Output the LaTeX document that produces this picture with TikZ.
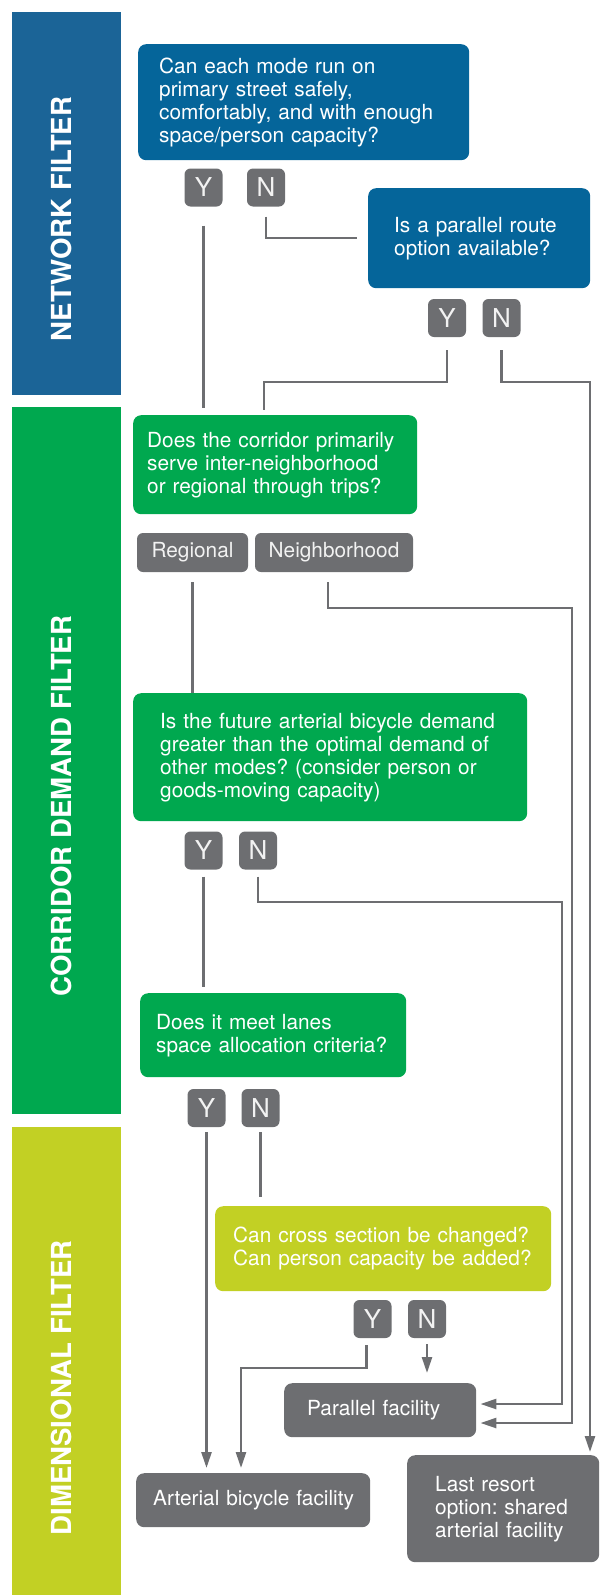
\documentclass[tikz,border=0pt]{standalone}
\usepackage{fontspec}
\setmainfont{TeX Gyre Heros}
\usetikzlibrary{arrows.meta}

\definecolor{bandblue}{HTML}{1B6497}
\definecolor{qblue}{HTML}{05659A}
\definecolor{qgreen}{HTML}{00A84F}
\definecolor{qlime}{HTML}{C2D024}
\definecolor{boxgray}{HTML}{6D6E71}
\definecolor{badgetext}{HTML}{F2F2F2}
\frenchspacing

\begin{document}
\begin{tikzpicture}[x=1pt,y=-1pt,
  qbox/.style={anchor=north west, rounded corners=8pt, text=white, align=left,
    inner ysep=0pt, font=\fontsize{20.8}{23}\selectfont},
  badge/.style={fill=boxgray, rounded corners=6pt, text=badgetext, minimum width=38pt,
    minimum height=38pt, inner sep=0pt, font=\fontsize{26}{26}\selectfont},
  tag/.style={fill=boxgray, rounded corners=6pt, text=badgetext, minimum height=39pt,
    inner sep=0pt, font=\fontsize{20.8}{23}\selectfont},
  bandlabel/.style={rotate=90, text=white, font=\fontsize{27.6}{28}\selectfont\bfseries},
  conn/.style={draw=boxgray, line width=2.5pt},
  connarrow/.style={conn, -{Triangle[length=16pt,width=10pt]}}
]
\useasboundingbox (0,0) rectangle (605,1595);

% filter bands
\fill[bandblue] (12,12) rectangle (121,395);
\fill[qgreen] (12,407) rectangle (121,1114);
\fill[qlime] (12,1127) rectangle (121,1595);
\node[bandlabel] (netlabel) at (61,219) {NETWORK FILTER};
\node[bandlabel] (corlabel) at (61,806) {CORRIDOR DEMAND FILTER};
\node[bandlabel] (dimlabel) at (61,1388) {DIMENSIONAL FILTER};

% network filter
\node[qbox, fill=qblue, inner xsep=21pt, text width=289pt, minimum height=116pt] (q1) at (138,44)
  {Can each mode run on\\primary street safely,\\comfortably, and with enough\\space/person capacity?};
\node[badge] (y1) at (203.5,187.5) {Y};
\node[badge] (n1) at (266,187.5) {N};
\node[qbox, fill=qblue, inner xsep=26pt, text width=170pt, minimum height=100pt] (q2) at (368,188)
  {Is a parallel route\\option available?};
\node[badge] (y2) at (447,318) {Y};
\node[badge] (n2) at (501.5,318) {N};

% corridor demand filter
\node[qbox, fill=qgreen, inner xsep=14pt, text width=256pt, minimum height=99pt] (q3) at (133,415)
  {Does the corridor primarily\\serve inter-neighborhood\\or regional through trips?};
\node[tag, minimum width=111pt] (reg) at (192.5,552.5) {Regional};
\node[tag, minimum width=158pt] (nbh) at (334,552.5) {Neighborhood};
\node[qbox, fill=qgreen, inner xsep=27pt, text width=340pt, minimum height=128pt] (q4) at (133,693)
  {Is the future arterial bicycle demand\\greater than the optimal demand of\\other modes? (consider person or\\goods-moving capacity)};
\node[badge] (y4) at (203.5,850.5) {Y};
\node[badge] (n4) at (258,850.5) {N};
\node[qbox, fill=qgreen, inner xsep=16pt, text width=234pt, minimum height=84pt] (q5) at (140,993)
  {Does it meet lanes\\\mbox{space allocation criteria?}};
\node[badge] (y5) at (206.5,1108) {Y};
\node[badge] (n5) at (260.5,1108) {N};

% dimensional filter
\node[qbox, fill=qlime, inner xsep=18pt, text width=300pt, minimum height=85pt] (q6) at (215,1206)
  {Can cross section be changed?\\Can person capacity be added?};
\node[badge] (y6) at (372.5,1319) {Y};
\node[badge] (n6) at (427,1319) {N};
\node[qbox, fill=boxgray, inner xsep=23pt, text width=146pt, minimum height=54pt] (par) at (284,1383)
  {Parallel facility};
\node[qbox, fill=boxgray, inner xsep=17pt, text width=200pt, minimum height=54pt] (art) at (136,1473)
  {\mbox{Arterial bicycle facility}};
\node[qbox, fill=boxgray, inner xsep=28pt, text width=136pt, minimum height=107pt] (last) at (407,1455)
  {Last resort\\\mbox{option: shared}\\\mbox{arterial facility}};

% corner points
\coordinate (j1) at (264,382);
\coordinate (j2) at (590,382);
\coordinate (j3) at (572,608);
\coordinate (j4) at (572,1423);
\coordinate (j5) at (562,902);
\coordinate (j6) at (562,1404);
\coordinate (j7) at (241,1368);

% connectors
\draw[conn, shorten <=19pt, shorten >=7pt] (y1.south) -- (y1.south |- q3.north);
\draw[conn, shorten <=10pt, shorten >=11pt] (n1.south) |- (q2.west);
\draw[conn, shorten <=13pt, shorten >=5pt] (y2.south) |- (j1) -- (j1 |- q3.north);
\draw[connarrow, shorten <=13pt, shorten >=3pt] (n2.south) |- (j2) -- (j2 |- last.north);
\draw[conn, shorten <=10pt] (reg.south) -- (reg.south |- q4.north);
\draw[connarrow, shorten <=10pt, shorten >=4pt] ([xshift=-6pt]nbh.south) |- (j3) -- (j4) -- (j4 -| par.east);
\draw[connarrow, shorten <=7pt, shorten >=4pt] (n4.south) |- (j5) -- (j6) -- (j6 -| par.east);
\draw[conn, shorten <=7pt, shorten >=6pt] (y4.south) -- (y4.south |- q5.north);
\draw[connarrow, shorten <=5pt, shorten >=5pt] (y5.south) -- (y5.south |- art.north);
\draw[conn, shorten <=5pt, shorten >=9pt] (n5.south) -- (n5.south |- q6.north);
\draw[connarrow, shorten <=7pt, shorten >=5pt] ([xshift=-6pt]y6.south) |- (j7) -- (j7 |- art.north);
\draw[connarrow, shorten <=6pt, shorten >=10pt] (n6.south) -- (n6.south |- par.north);
\end{tikzpicture}
\end{document}
